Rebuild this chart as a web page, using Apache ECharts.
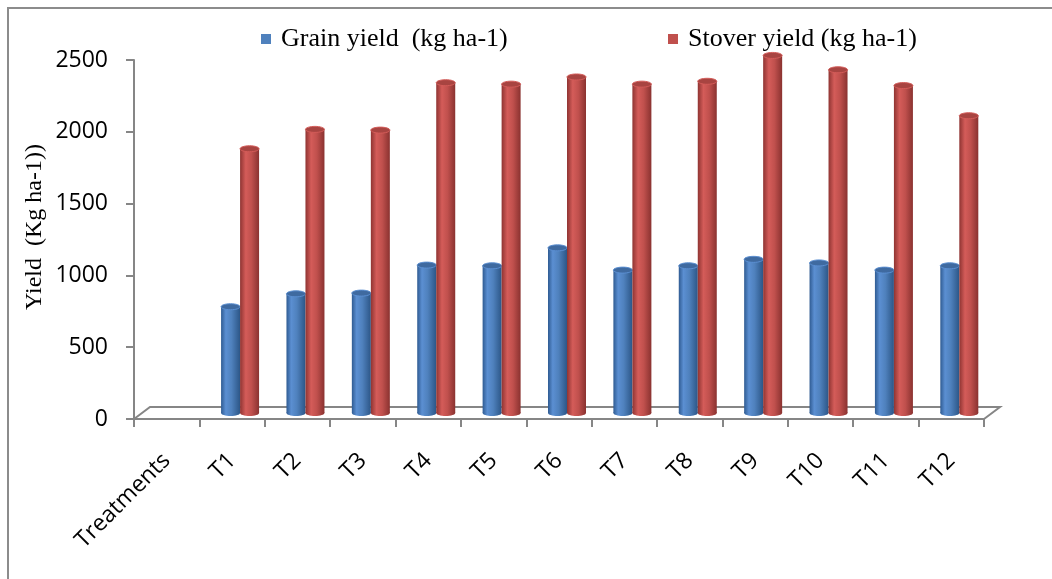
<!DOCTYPE html>
<html>
<head>
<meta charset="utf-8">
<script src="https://cdn.jsdelivr.net/npm/echarts@6/dist/echarts.min.js"></script>
<style>
html,body{margin:0;padding:0;background:#fff;}
#main{width:1052px;height:579px;}
</style>
</head>
<body>
<div id="main"></div>
<script>
// ---- data ----
const categories = ['Treatments','T1','T2','T3','T4','T5','T6','T7','T8','T9','T10','T11','T12'];
const grainYield = [null, 740, 830, 835, 1030, 1025, 1150, 995, 1025, 1070, 1045, 995, 1025];
const stoverYield = [null, 1840, 1975, 1970, 2300, 2290, 2340, 2290, 2310, 2490, 2390, 2280, 2070];
const seriesNames = ['Grain yield  (kg ha-1)', 'Stover yield (kg ha-1)'];
const yAxisTitle = 'Yield  (Kg ha-1))';
const yMin = 0, yMax = 2500, yInterval = 500;

// ---- styling constants ----
const BAR_W = 19;
const DEPTH_DX = 16, DEPTH_DY = -12;
const AXIS_COLOR = '#868686';

const chart = echarts.init(document.getElementById('main'));

function toPairs(arr){
  const out = [];
  arr.forEach((v,i)=>{ if (v != null) out.push([i, v]); });
  return out;
}

function cylinder(side, stops, capColor){
  return function(params, api){
    const i = api.value(0), v = api.value(1);
    const top = api.coord([i, v]);
    const base = api.coord([i, 0]);
    const cx = top[0] + DEPTH_DX/2 + side * BAR_W/2;
    const dy = DEPTH_DY/2;
    const yTop = top[1] + dy, yBase = base[1] + dy;
    const ry = 3;
    return {
      type: 'group',
      children: [
        { type:'ellipse', shape:{cx:cx, cy:yBase, rx:BAR_W/2, ry:ry},
          style:{ fill: new echarts.graphic.LinearGradient(0,0,1,0, stops) } },
        { type:'rect', shape:{x:cx-BAR_W/2, y:yTop, width:BAR_W, height:yBase-yTop},
          style:{ fill: new echarts.graphic.LinearGradient(0,0,1,0, stops) } },
        { type:'ellipse', shape:{cx:cx, cy:yTop, rx:BAR_W/2, ry:ry},
          style:{ fill: capColor, stroke: stops[1].color, lineWidth: 1 } }
      ]
    };
  };
}

const blueStops = [
  {offset:0, color:'#2f5b92'},
  {offset:0.25, color:'#5b8fd2'},
  {offset:0.55, color:'#4f81bd'},
  {offset:1, color:'#2c5687'}
];
const redStops = [
  {offset:0, color:'#8f3432'},
  {offset:0.3, color:'#d45c59'},
  {offset:0.6, color:'#c0504d'},
  {offset:1, color:'#8a3230'}
];

const option = {
  backgroundColor: '#ffffff',
  animation: false,
  graphic: [
    { type:'rect', shape:{x:8, y:8, width:1100, height:620}, style:{fill:'none', stroke:'#8c8c8c', lineWidth:2}, z:-1 },
    { type:'text', x:35, y:227, rotation:Math.PI/2,
      style:{ text: yAxisTitle, fontFamily:'Liberation Serif', fontSize:24, fontWeight:'normal', fill:'#000', align:'center', verticalAlign:'middle' } }
  ],
  legend: [
    { data:[seriesNames[0]], left:256, top:21, icon:'rect', itemWidth:10, itemHeight:10,
      textStyle:{ fontFamily:'Liberation Serif', fontSize:26, color:'#000', padding:[0,0,0,5] } },
    { data:[seriesNames[1]], left:663, top:21, icon:'rect', itemWidth:10, itemHeight:10,
      textStyle:{ fontFamily:'Liberation Serif', fontSize:26, color:'#000', padding:[0,0,0,5] } }
  ],
  grid: { left:134, right:68, top:60, bottom:160, containLabel:false },
  xAxis: {
    type:'category',
    data: categories,
    boundaryGap: true,
    axisLine:{ show:true, lineStyle:{ color:AXIS_COLOR, width:2 } },
    axisTick:{ show:true, length:8, lineStyle:{ color:AXIS_COLOR, width:2 } },
    axisLabel:{ rotate:45, margin:38, fontFamily:'Open Sans', fontSize:23, color:'#000', interval:0 },
    splitLine:{ show:false }
  },
  yAxis: {
    type:'value',
    min:yMin, max:yMax, interval:yInterval,
    axisLine:{ show:true, lineStyle:{ color:AXIS_COLOR, width:2 } },
    axisTick:{ show:true, length:8, lineStyle:{ color:AXIS_COLOR, width:2 } },
    axisLabel:{ margin:26, fontFamily:'Open Sans', fontSize:23, color:'#000', formatter: function(v){ return String(v); } },
    splitLine:{ show:false }
  },
  series: [
    {
      name:'floor', type:'custom', data:[[0,0]], z:1, silent:true,
      renderItem: function(params, api){
        const c0 = api.coord([0, 0]);
        const bw = api.size([1, 0])[0];
        const left = c0[0] - bw/2;
        const right = left + bw * categories.length;
        const y = c0[1];
        return {
          type:'polyline',
          shape:{ points:[[left,y],[left+DEPTH_DX,y+DEPTH_DY],[right+DEPTH_DX,y+DEPTH_DY],[right,y]] },
          style:{ fill:'none', stroke:AXIS_COLOR, lineWidth:2 }
        };
      }
    },
    {
      name: seriesNames[0], type:'custom', z:2,
      itemStyle:{ color:'#4f81bd' },
      data: toPairs(grainYield),
      encode:{ x:0, y:1 },
      renderItem: cylinder(-1, blueStops, '#3f6aa0')
    },
    {
      name: seriesNames[1], type:'custom', z:3,
      itemStyle:{ color:'#c0504d' },
      data: toPairs(stoverYield),
      encode:{ x:0, y:1 },
      renderItem: cylinder(1, redStops, '#a84441')
    }
  ]
};
chart.setOption(option);
</script>
</body>
</html>
